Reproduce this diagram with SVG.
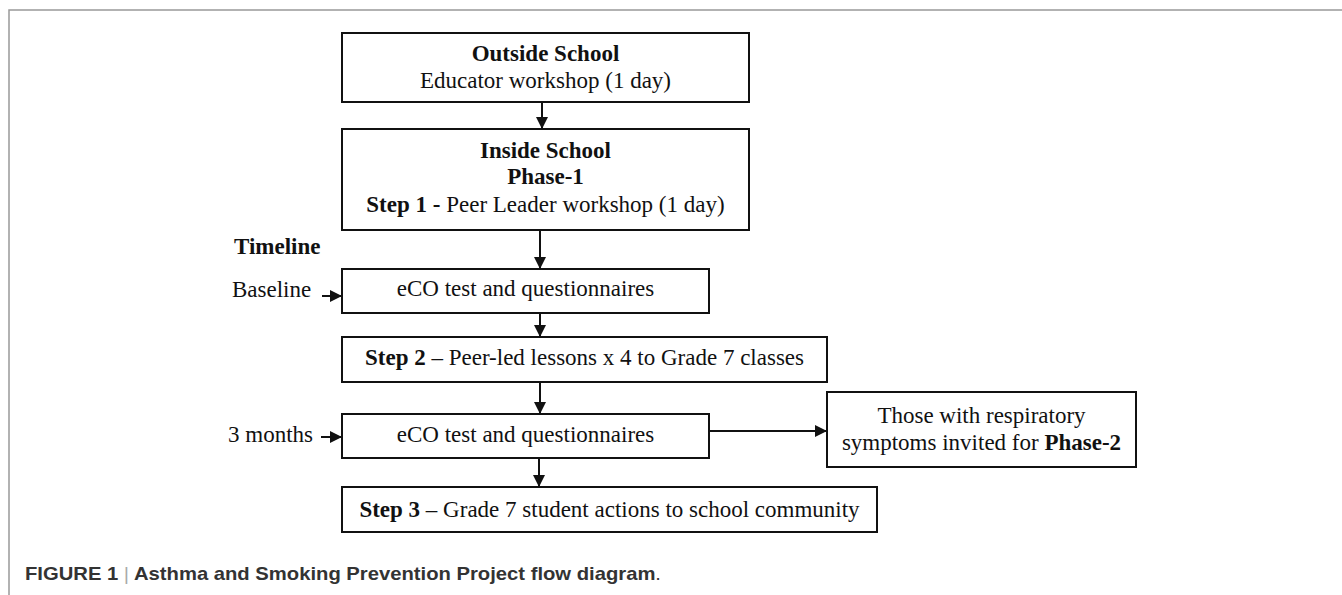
<svg xmlns="http://www.w3.org/2000/svg" width="1342" height="595" viewBox="0 0 1342 595">
<style>
.box{fill:#fff;stroke:#111;stroke-width:2}
.t{font-family:"Liberation Serif","Times New Roman",serif;font-size:23px;fill:#111}
.c{text-anchor:middle}
.b{font-weight:bold}
.conn{stroke:#111;stroke-width:2;fill:none}
.frame{stroke:#999;stroke-width:1.5;fill:none}
.cap{font-family:"Liberation Sans",Arial,sans-serif;font-size:19px;font-weight:bold;fill:#333}
</style>
<defs>
<marker id="ah" viewBox="0 0 12 12" refX="12" refY="6" markerWidth="12" markerHeight="12" markerUnits="userSpaceOnUse" orient="auto">
<path d="M0,0 L12,6 L0,12 z" fill="#111"/>
</marker>
</defs>
<rect width="1342" height="595" fill="#fff"/>
<path class="frame" d="M9,595 V10 H1342"/>

<g id="outside">
<rect class="box" x="342" y="33" width="407" height="69"/>
<text class="t c b" x="545.5" y="61">Outside School</text>
<text class="t c" x="545.5" y="88">Educator workshop (1 day)</text>
</g>
<g id="inside">
<rect class="box" x="342" y="129" width="407" height="101"/>
<text class="t c b" x="545.5" y="158">Inside School</text>
<text class="t c b" x="545.5" y="184">Phase-1</text>
<text class="t c" x="545.5" y="212"><tspan class="b">Step 1 -</tspan> Peer Leader workshop (1 day)</text>
</g>
<g id="eco1">
<rect class="box" x="342" y="269" width="367" height="44"/>
<text class="t c" x="525.5" y="296">eCO test and questionnaires</text>
</g>
<g id="step2">
<rect class="box" x="342" y="337" width="485" height="45"/>
<text class="t c" x="584.5" y="365"><tspan class="b">Step 2</tspan> – Peer-led lessons x 4 to Grade 7 classes</text>
</g>
<g id="eco2">
<rect class="box" x="342" y="414" width="367" height="44"/>
<text class="t c" x="525.5" y="442">eCO test and questionnaires</text>
</g>
<g id="phase2">
<rect class="box" x="827" y="392" width="309" height="75"/>
<text class="t c" x="981.5" y="423">Those with respiratory</text>
<text class="t c" x="981.5" y="450">symptoms invited for <tspan class="b">Phase-2</tspan></text>
</g>
<g id="step3">
<rect class="box" x="342" y="487" width="535" height="45"/>
<text class="t c" x="609.5" y="517"><tspan class="b">Step 3</tspan> – Grade 7 student actions to school community</text>
</g>
<g id="timeline">
<text class="t b" x="234" y="254">Timeline</text>
<text class="t" x="232" y="297">Baseline</text>
<text class="t" x="228" y="442">3 months</text>
</g>

<g id="connectors">
<line class="conn" x1="542" y1="102" x2="542" y2="129" marker-end="url(#ah)"/>
<line class="conn" x1="540" y1="230" x2="540" y2="269" marker-end="url(#ah)"/>
<line class="conn" x1="540" y1="313" x2="540" y2="337" marker-end="url(#ah)"/>
<line class="conn" x1="540" y1="382" x2="540" y2="414" marker-end="url(#ah)"/>
<line class="conn" x1="539" y1="458" x2="539" y2="487" marker-end="url(#ah)"/>
<line class="conn" x1="709" y1="431" x2="827" y2="431" marker-end="url(#ah)"/>
<line class="conn" x1="322" y1="296" x2="342" y2="296" marker-end="url(#ah)"/>
<line class="conn" x1="321" y1="437" x2="342" y2="437" marker-end="url(#ah)"/>
</g>

<text class="cap" x="25" y="580" textLength="636" lengthAdjust="spacingAndGlyphs">FIGURE 1 <tspan fill="#aaa" font-weight="normal">|</tspan> Asthma and Smoking Prevention Project flow diagram<tspan font-weight="normal">.</tspan></text>
</svg>
